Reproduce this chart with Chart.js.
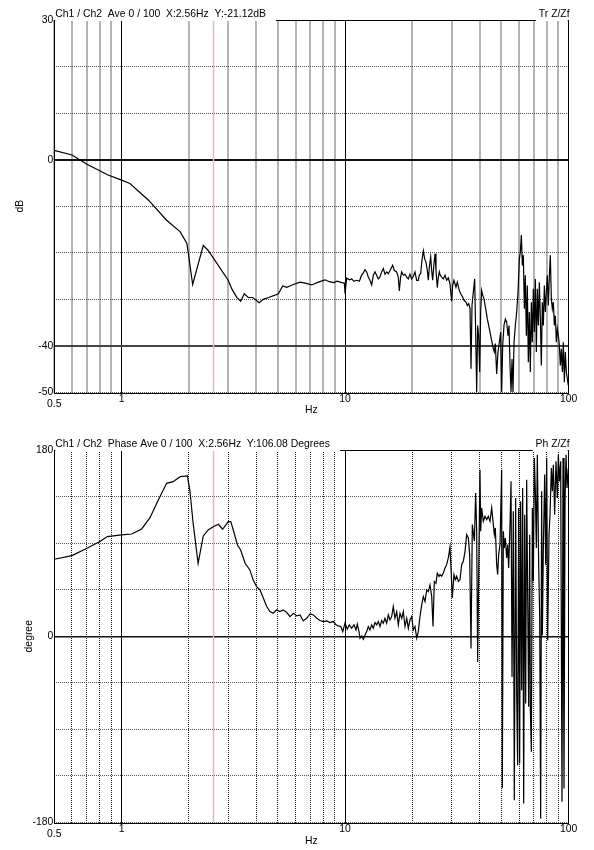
<!doctype html>
<html>

<head>
    <title>Ch1 / Ch2 transfer function</title>
    <script src="https://cdn.jsdelivr.net/npm/chart.js@4.4.1/dist/chart.umd.min.js"></script>
    <style>
    body { margin: 0; background: #fff; }
    .panel { position: absolute; left: 0; width: 594px; height: 425px; }
    </style>
</head>

<body>
    <div class="panel" style="top: 0px;"><canvas id="canvas" width="594" height="425"></canvas></div>
    <div class="panel" style="top: 430px;"><canvas id="canvas2" width="594" height="425"></canvas></div>
    <script>
        // axes
        var FREQ_TICKS = [0.5, 0.6, 0.7, 0.8, 0.9, 1, 2, 3, 4, 5, 6, 7, 8, 9, 10, 20, 30, 40, 50, 60, 70, 80, 90, 100];
        var FREQ_LABELED = [1, 10, 100];
        var DB_TICKS = [-50, -40, -30, -20, -10, 0, 10, 20, 30];
        var DB_LABELED = [30, 0, -40, -50];
        var DB_SOLID = [0, -40];
        var DEG_TICKS = [-180, -135, -90, -45, 0, 45, 90, 135, 180];
        var DEG_LABELED = [180, 0, -180];
        var DEG_SOLID = [0];
        var CURSOR_HZ = 2.56;

        // Tr Z/Zf magnitude (dB)
        var magFreq = [0.5, 0.6, 0.7, 0.87, 1.0, 1.09, 1.32, 1.59, 1.83, 1.96,
            2.08, 2.32, 2.44, 3.0, 3.11, 3.27, 3.41, 3.54, 3.69, 3.86,
            4.13, 4.31, 4.61, 4.86, 5.03, 5.26, 5.48, 5.87, 6.29, 6.62,
            7.09, 7.59, 8.13, 8.5, 8.86, 9.23, 9.66, 9.92, 10.0,
            10.16, 10.45, 10.70, 10.96, 11.27, 11.58, 11.86, 12.07, 12.28, 12.49,
            12.70, 12.92, 13.15, 13.38, 13.61, 13.84, 14.08, 14.33, 14.57, 14.83,
            15.08, 15.34, 15.61, 15.88, 16.16, 16.32, 16.61, 17.01, 17.30, 17.48,
            17.72, 17.91, 18.22, 18.53, 18.86, 19.18, 19.51, 19.85, 20.19, 20.54,
            20.90, 21.26, 21.48, 21.78, 22.08, 22.39, 22.70, 23.01, 23.33, 23.57,
            23.82, 24.15, 24.40, 24.65, 24.99, 25.25, 25.51, 25.86, 26.13, 26.41,
            26.59, 27.05, 27.51, 27.99, 28.47, 28.96, 29.46, 29.97, 30.28, 30.70,
            31.34, 31.78, 32.44, 32.89, 33.57, 34.04, 34.75, 35.24, 35.73, 36.22,
            36.59, 36.97, 37.48, 38.00, 38.39, 38.79, 39.19, 39.59, 40.00, 40.42,
            40.83, 41.26, 41.83, 42.55, 43.29, 44.19, 45.11, 46.05, 46.53, 47.01,
            47.66, 48.32, 48.99, 49.67, 50.18, 50.70, 51.40, 52.12, 52.84, 53.57,
            54.13, 54.69, 55.26, 55.83, 56.40, 56.99, 57.78, 58.57, 59.38, 60.21,
            60.83, 61.45, 62.09, 62.73, 63.39, 64.03, 64.70, 65.37, 66.04, 66.73,
            67.42, 68.13, 68.84, 69.54, 70.26, 70.99, 71.73, 72.46, 73.22, 73.98,
            74.75, 75.51, 76.30, 77.09, 77.88, 78.69, 79.51, 80.33, 81.15, 82.00,
            82.85, 83.72, 84.57, 85.45, 86.34, 87.24, 88.13, 89.05, 89.98, 90.92,
            91.83, 92.79, 93.76, 94.73, 95.70, 96.70, 97.70, 98.72, 99.72];
        var magDb = [2.0, 1.0, -1.0, -3.3, -4.4, -5.1, -8.7, -13.0, -15.5, -18.0,
            -26.8, -18.4, -19.5, -25.9, -27.7, -29.5, -30.4, -28.8, -29.6, -29.6,
            -30.7, -30.0, -29.5, -29.1, -28.8, -27.1, -27.4, -26.8, -26.3, -26.5,
            -26.9, -26.3, -25.8, -26.2, -26.4, -26.1, -26.4, -26.5, -28.8,
            -25.4, -25.8, -25.6, -26.1, -25.9, -26.1, -24.8, -24.3, -23.6, -24.1,
            -25.2, -25.9, -26.9, -24.8, -24.1, -24.8, -25.6, -25.2, -24.1, -23.4,
            -24.6, -24.1, -24.5, -23.8, -23.1, -22.7, -23.8, -24.1, -25.2, -28.2,
            -25.2, -24.1, -24.8, -24.6, -25.2, -25.6, -24.6, -25.6, -25.1, -24.1,
            -25.9, -25.9, -24.8, -24.5, -21.6, -19.6, -21.3, -22.0, -23.8, -25.9,
            -23.1, -20.9, -23.8, -25.9, -22.3, -20.2, -23.8, -27.5, -25.2, -24.1,
            -24.7, -25.2, -25.6, -24.8, -25.9, -25.4, -26.6, -30.4, -27.0, -25.9,
            -27.4, -26.3, -28.1, -28.8, -29.5, -30.2, -30.6, -31.3, -30.9, -32.0,
            -44.9, -31.3, -28.4, -25.6, -37.0, -49.9, -35.6, -37.8, -45.6, -32.7,
            -28.1, -29.1, -29.9, -32.0, -34.2, -36.3, -38.5, -40.6, -41.3, -39.5,
            -46.0, -41.3, -39.2, -37.0, -49.9, -39.9, -35.6, -34.2, -34.9, -37.8,
            -35.6, -44.2, -49.9, -42.8, -49.9, -39.2, -35.6, -32.7, -28.4, -21.3,
            -19.8, -16.2, -22.7, -20.5, -32.0, -24.8, -37.8, -27.0, -43.5, -32.7,
            -45.6, -30.6, -39.2, -27.7, -37.0, -25.6, -41.3, -27.7, -35.6, -26.3,
            -34.2, -44.2, -30.6, -35.6, -27.0, -32.7, -28.4, -24.8, -31.3, -25.2,
            -20.5, -29.9, -32.0, -30.6, -35.6, -33.5, -39.2, -36.3, -37.8, -39.9,
            -44.2, -40.6, -45.6, -39.2, -47.8, -41.3, -45.6, -47.1, -48.5];

        // Ph Z/Zf phase (degrees)
        var phaseFreq = [0.5, 0.6, 0.7, 0.80, 0.863, 1.0, 1.11, 1.23, 1.34, 1.46,
            1.59, 1.70, 1.83, 1.97, 2.02, 2.09, 2.2, 2.32, 2.44, 2.57,
            2.71, 2.83, 3.0, 3.08, 3.16, 3.30, 3.41, 3.57,
            3.75, 3.88, 4.02, 4.16, 4.31, 4.46, 4.61, 4.77, 4.94, 5.11,
            5.29, 5.48, 5.67, 5.87, 6.08, 6.29, 6.50, 6.73, 6.97, 7.21,
            7.47, 7.72, 7.99, 8.27, 8.56, 8.86, 9.11, 9.32, 9.56, 9.76,
            9.99, 10.23, 10.44, 10.70, 10.96, 11.19, 11.34, 11.54, 11.66, 11.87,
            12.06, 12.28, 12.49, 12.70, 12.92, 13.15, 13.37, 13.61, 13.85, 14.08,
            14.33, 14.58, 14.82, 15.08, 15.35, 15.61, 15.88, 16.16, 16.43, 16.72,
            17.02, 17.30, 17.61, 17.92, 18.22, 18.54, 18.87, 19.18, 19.51, 19.86,
            20.19, 20.55, 20.91, 21.26, 21.63, 22.02, 22.38, 22.78, 23.18, 23.57,
            23.99, 24.41, 24.74, 25.07, 25.51, 25.85, 26.31,
            26.59, 27.05, 27.51, 27.99, 28.47, 28.96, 29.46, 29.87, 30.17, 30.70,
            31.13, 31.56, 32.11, 32.67, 33.23, 33.81, 34.40, 34.99, 35.60, 36.09,
            36.59, 37.09, 37.87, 38.39, 38.79, 39.19, 39.73, 40.14, 40.42, 40.83,
            41.54, 42.27, 43.00, 43.75, 44.50, 45.27, 46.05, 46.53, 47.01, 47.66,
            48.15, 48.65, 49.33, 50.18, 50.52, 51.05, 51.58, 52.12, 52.84, 53.38,
            53.94, 54.69, 55.26, 55.83, 56.57, 57.16, 57.95, 58.57, 59.16, 59.78,
            60.40, 61.02, 61.66, 62.30, 62.95, 63.60, 64.26, 64.93, 65.61, 66.27,
            66.96, 67.42, 68.13, 68.84, 69.54, 70.26, 70.99, 71.73, 72.46, 73.47,
            74.23, 74.99, 75.75, 76.30, 77.09, 78.17, 78.98, 79.80, 80.62, 81.74,
            82.58, 83.72, 84.57, 85.45, 86.62, 87.82, 89.05, 89.98, 90.92, 92.16,
            93.44, 94.41, 95.37, 96.40, 97.37, 98.38, 99.72];
        var phaseDeg = [74.4, 77.9, 85.0, 91.5, 96.3, 97.9, 98.8, 103.7, 114.6, 131.7,
            147.8, 149.4, 154.2, 154.9, 141.3, 109.2, 70.5, 96.9, 102.7, 105.9,
            108.2, 103.4, 110.8, 110.8, 102.7, 88.2, 83.4, 70.5,
            64.1, 54.4, 48.0, 44.8, 36.7, 28.7, 23.8, 22.2, 25.5, 23.8,
            25.5, 22.9, 19.0, 22.2, 19.7, 20.6, 14.8, 17.4, 21.6, 20.6,
            17.4, 15.2, 14.2, 14.8, 13.2, 14.2, 11.0, 10.0, 9.4, 4.5,
            12.6, 6.8, 11.0, 7.7, 11.0, 6.1, 11.9, 4.5, -1.9, 0.4,
            -2.9, 1.3, 4.5, 9.4, 6.1, 11.0, 7.7, 13.2, 11.0, 14.2,
            9.4, 15.2, 12.6, 17.4, 12.6, 20.6, 15.8, 19.0, 28.7, 17.4,
            23.8, 11.0, 22.2, 17.4, 23.8, 9.4, 17.4, 7.7, 15.8, 19.0,
            6.1, 9.4, -1.9, 4.5, 19.0, 30.3, 38.3, 33.5, 44.8, 43.2,
            49.6, 38.3, 9.4, 52.8, 51.2, 60.9, 57.7,
            59.6, 58.0, 61.2, 66.0, 69.2, 75.7, 86.0, 59.6, 37.0, 59.6,
            54.8, 58.0, 53.1, 54.8, 69.2, 72.5, 82.1, 98.2, 95.0, 78.9,
            -11.9, 107.9, 91.8, 138.5, 101.4, -24.8, 85.3, 161.0, 101.4, 124.0,
            111.1, 115.9, 112.7, 115.9, 111.1, 124.0, 107.9, 98.2, 104.7, 69.2,
            59.6, 78.9, 88.6, 161.0, -147.0, 101.4, 85.3, 95.0, 75.7, 88.6,
            66.0, 107.9, 149.7, -39.3, 120.8, -158.4, 133.6, -53.8, -124.6, 124.0,
            -123.0, 130.4, -52.1, 143.3, -161.6, 117.5, -65.0, 151.3, 37.0, -68.2,
            98.2, -69.9, -111.7, 124.0, 53.1, 172.3, 140.1, 85.3, 175.5, 69.2,
            21.0, -176.1, 140.1, 1.0, 85.3, 156.2, 69.2, 172.3, -3.8, 98.2,
            117.5, 162.6, 140.1, 165.8, 117.5, 169.1, 133.6, 175.5, 149.7, 169.1,
            -160.0, 172.3, -147.1, 130.4, 175.5, 143.3, 162.6];

        var CHART_FONT = "'Liberation Sans', Arial, sans-serif";
        var FONT_SIZE = 10.4;
        Chart.defaults.font.family = CHART_FONT;
        Chart.defaults.font.size = FONT_SIZE;
        Chart.defaults.color = '#000';

        function toPoints(xs, ys) {
            return xs.map(function(x, i) { return {x: x, y: ys[i]}; });
        }
        function tickVal(c) {
            return c.tick ? c.tick.value : null;
        }

        // frame, cursor line, header texts
        var chrome = {
            id: 'chrome',
            beforeDatasetsDraw: function(chart, args, opts) {
                var a = chart.chartArea, ctx = chart.ctx;
                var cx = Math.round(chart.scales.x.getPixelForValue(opts.cursor)) + 0.5;
                ctx.save();
                ctx.strokeStyle = '#f3b2b2';
                ctx.lineWidth = 1.5;
                ctx.beginPath();
                ctx.moveTo(cx, a.top);
                ctx.lineTo(cx, a.bottom);
                ctx.stroke();
                ctx.restore();
            },
            afterDraw: function(chart, args, opts) {
                var a = chart.chartArea, ctx = chart.ctx;
                ctx.save();
                ctx.strokeStyle = '#000';
                ctx.lineWidth = 1;
                ctx.strokeRect(Math.round(a.left) + 0.5, Math.round(a.top) + 0.5,
                    Math.round(a.right - a.left), Math.round(a.bottom - a.top));
                ctx.font = FONT_SIZE + 'px ' + CHART_FONT;
                ctx.textBaseline = 'middle';
                var ty = a.top - 5.5;
                var w = ctx.measureText(opts.title).width;
                var w2 = ctx.measureText(opts.tag).width;
                ctx.fillStyle = '#fff';
                ctx.fillRect(a.left + 1, 0, w + 10, a.top + 1);
                ctx.fillRect(a.right - w2 - 2, 0, w2 + 1, a.top + 1);
                ctx.fillStyle = '#000';
                ctx.textAlign = 'left';
                ctx.fillText(opts.title, a.left + 1, ty);
                ctx.textAlign = 'right';
                ctx.fillText(opts.tag, a.right + 1, ty);
                // the 0.5 label sits a bit lower than the others
                ctx.textAlign = 'center';
                ctx.fillText(String(FREQ_TICKS[0]), chart.scales.x.getPixelForValue(FREQ_TICKS[0]), a.bottom + 11.5);
                ctx.restore();
            }
        };

        function makePanel(id, cfg) {
            return new Chart(document.getElementById(id), {
                type: 'line',
                data: {
                    datasets: [{
                        data: toPoints(cfg.xs, cfg.ys),
                        borderColor: '#000',
                        borderWidth: 1.2,
                        pointRadius: 0,
                        tension: 0,
                        fill: false
                    }]
                },
                options: {
                    responsive: false,
                    animation: false,
                    events: [],
                    layout: { padding: { left: 0, top: 20, right: 25.4, bottom: 0 } },
                    plugins: {
                        legend: { display: false },
                        tooltip: { enabled: false },
                        chrome: { title: cfg.title, tag: cfg.tag, cursor: CURSOR_HZ }
                    },
                    scales: {
                        x: {
                            type: 'logarithmic',
                            min: 0.5,
                            max: 100,
                            afterBuildTicks: function(s) {
                                s.ticks = FREQ_TICKS.map(function(v) { return {value: v}; });
                            },
                            afterFit: function(s) { s.height = 32.5; },
                            grid: {
                                drawTicks: false,
                                color: function(c) { return FREQ_LABELED.indexOf(tickVal(c)) >= 0 ? '#000' : cfg.minorColor; },
                                lineWidth: function(c) { return FREQ_LABELED.indexOf(tickVal(c)) >= 0 ? 1 : cfg.minorWidth; }
                            },
                            border: {
                                display: false,
                                dash: function(c) { return FREQ_LABELED.indexOf(tickVal(c)) >= 0 ? [] : cfg.minorDash; }
                            },
                            ticks: {
                                autoSkip: false,
                                maxRotation: 0,
                                minRotation: 0,
                                padding: 0,
                                callback: function(v) { return FREQ_LABELED.indexOf(v) >= 0 ? String(v) : ''; }
                            },
                            title: { display: true, text: 'Hz', padding: { top: 0, bottom: cfg.hzPad } }
                        },
                        y: {
                            min: cfg.yTicks[0],
                            max: cfg.yTicks[cfg.yTicks.length - 1],
                            afterBuildTicks: function(s) {
                                s.ticks = cfg.yTicks.map(function(v) { return {value: v}; });
                            },
                            afterFit: function(s) { s.width = 54.3; },
                            grid: {
                                drawTicks: false,
                                color: function(c) {
                                    var v = tickVal(c);
                                    if (v === 0) return '#111';
                                    return cfg.ySolid.indexOf(v) >= 0 ? '#444' : '#555';
                                },
                                lineWidth: function(c) { return cfg.ySolid.indexOf(tickVal(c)) >= 0 ? cfg.solidWidth : 1; }
                            },
                            border: {
                                display: false,
                                dash: function(c) { return cfg.ySolid.indexOf(tickVal(c)) >= 0 ? [] : [1, 1]; }
                            },
                            ticks: {
                                autoSkip: false,
                                padding: 1,
                                callback: function(v) { return cfg.yLabeled.indexOf(v) >= 0 ? String(v) : ''; }
                            },
                            title: { display: true, text: cfg.yTitle, padding: { top: cfg.yTitlePad, bottom: 0 } }
                        }
                    }
                },
                plugins: [chrome]
            });
        }

        window.magChart = makePanel('canvas', {
            xs: magFreq, ys: magDb,
            title: 'Ch1 / Ch2  Ave 0 / 100  X:2.56Hz  Y:-21.12dB', tag: 'Tr Z/Zf',
            yTicks: DB_TICKS, yLabeled: DB_LABELED, ySolid: DB_SOLID, solidWidth: 2,
            yTitle: 'dB', yTitlePad: 13.8, hzPad: 8.8,
            minorColor: '#b4b4b4', minorWidth: 2, minorDash: []
        });
        window.phaseChart = makePanel('canvas2', {
            xs: phaseFreq, ys: phaseDeg,
            title: 'Ch1 / Ch2  Phase Ave 0 / 100  X:2.56Hz  Y:106.08 Degrees', tag: 'Ph Z/Zf',
            yTicks: DEG_TICKS, yLabeled: DEG_LABELED, ySolid: DEG_SOLID, solidWidth: 1.5,
            yTitle: 'degree', yTitlePad: 23.3, hzPad: 8.1,
            minorColor: '#222', minorWidth: 1, minorDash: [1, 1]
        });
    </script>
</body>

</html>
